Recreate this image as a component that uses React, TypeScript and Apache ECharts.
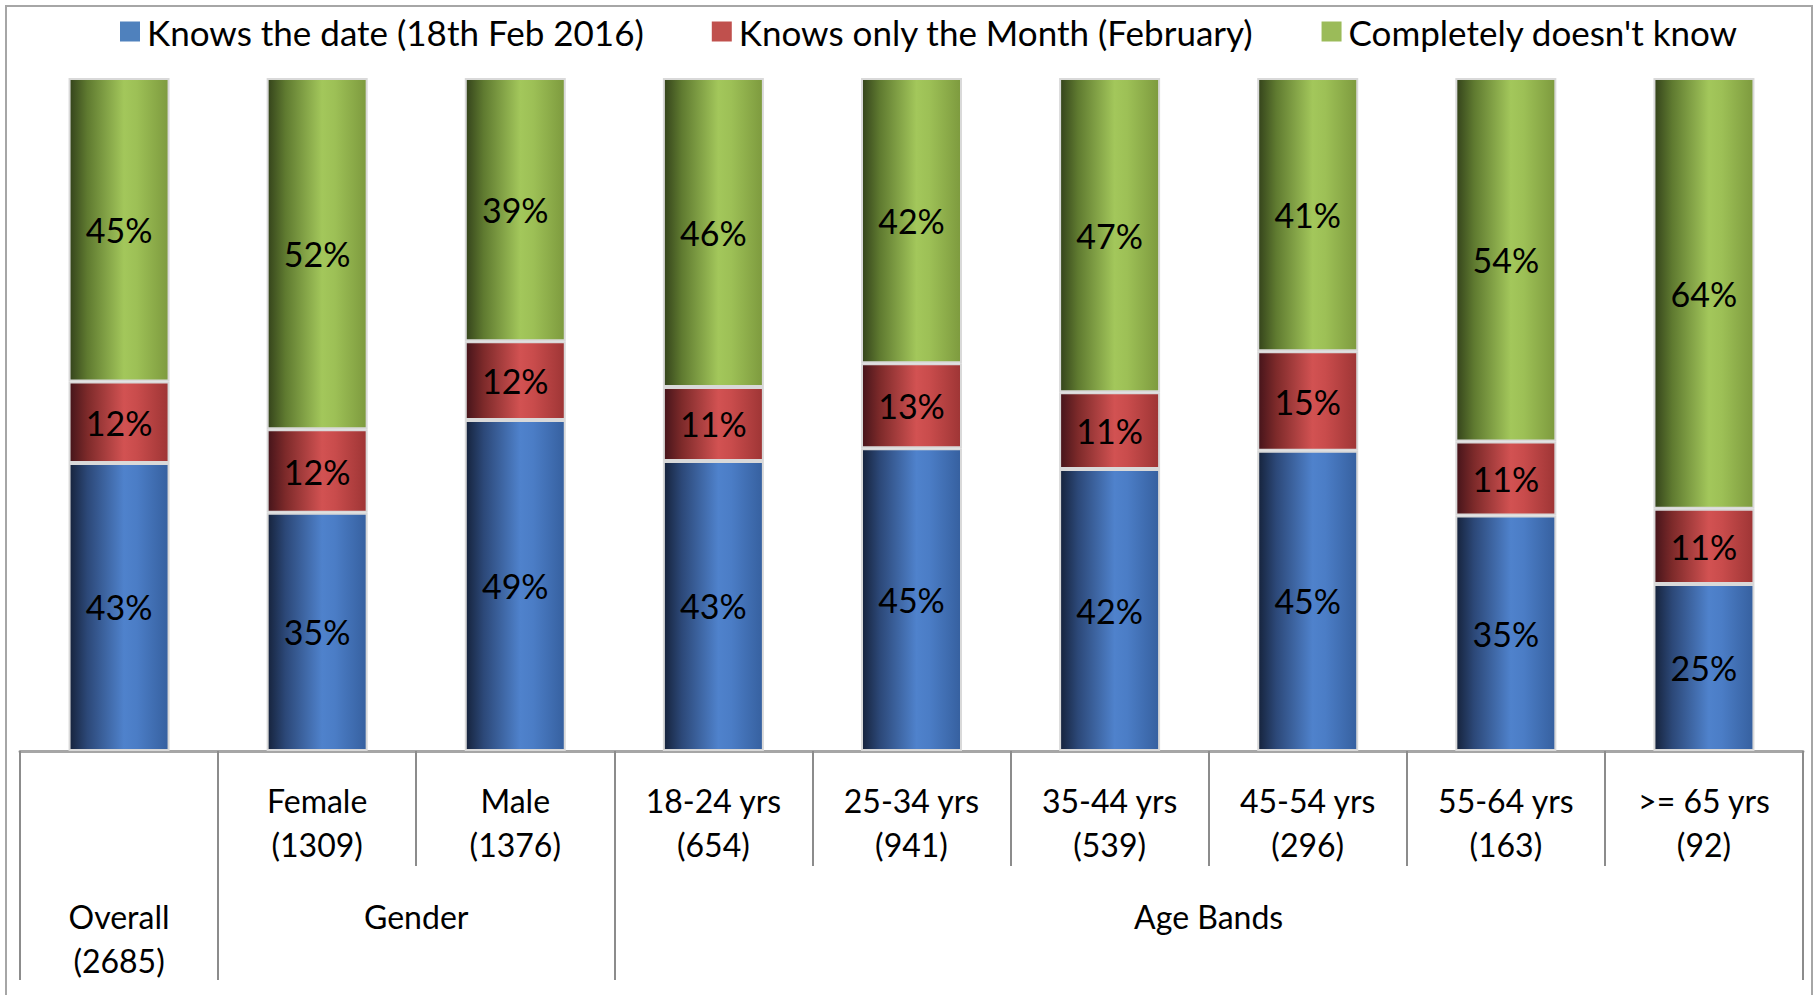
import React, { useEffect, useRef } from "react";
import * as echarts from "echarts";

const categories = ["Overall", "Female", "Male", "18-24 yrs", "25-34 yrs", "35-44 yrs", "45-54 yrs", "55-64 yrs", ">= 65 yrs"];
const sampleSizes = [2685, 1309, 1376, 654, 941, 539, 296, 163, 92];
const knowsDate = [42.8, 35.4, 49.2, 43.1, 45.0, 41.9, 44.6, 35.0, 24.8];
const knowsMonth = [12.1, 12.4, 11.7, 11.0, 12.6, 11.4, 14.8, 11.0, 11.2];
const doesntKnow = [45.1, 52.2, 39.1, 45.9, 42.4, 46.7, 40.6, 54.0, 64.0];
const seriesNames = ["Knows the date (18th Feb 2016)", "Knows only the Month (February)", "Completely doesn't know"];
const groupLabels = ["Overall\n(2685)", "Gender", "Age Bands"];
const groupStarts = [0, 1, 3];
const groupEnds = [1, 3, 9];

const FONT = "Lato, 'Open Sans', sans-serif";

function grad(stops: [number, string][]) {
  return new echarts.graphic.LinearGradient(0, 0, 1, 0, stops.map(([offset, color]) => ({ offset, color })));
}

export default function App() {
  const ref = useRef<HTMLDivElement>(null);
  useEffect(() => {
    if (!ref.current) return;
    const chart = echarts.init(ref.current, null, { renderer: "svg" });
    const groupCenters = groupStarts.map((s, i) => (s + groupEnds[i]) / 2);
    const groupBounds = Array.from(new Set([...groupStarts, ...groupEnds]));
    const fills = [
      grad([[0, "#16233c"], [0.18, "#2c4878"], [0.55, "#4f82cc"], [0.68, "#4b7dc6"], [1, "#36609f"]]),
      grad([[0, "#45141a"], [0.18, "#7d2a2a"], [0.55, "#d25252"], [0.68, "#c94c4c"], [1, "#9e3535"]]),
      grad([[0, "#34431b"], [0.18, "#5f7a30"], [0.55, "#a3c75b"], [0.68, "#9dc056"], [1, "#7d9a3e"]]),
    ];
    const flat = ["#4f81bd", "#c0504d", "#9bbb59"];
    const datasets = [knowsDate, knowsMonth, doesntKnow];
    chart.setOption({
      animation: false,
      textStyle: { fontFamily: FONT },
      graphic: [
        {
          type: "rect",
          shape: { x: 6, y: 6, width: 1806, height: 1010 },
          style: { fill: "none", stroke: "#a6a6a6", lineWidth: 2 },
          silent: true,
        },
      ],
      legend: {
        left: 115,
        top: 9,
        itemGap: 68,
        itemWidth: 20,
        itemHeight: 20,
        icon: "rect",
        textStyle: { fontSize: 35, color: "#000", fontFamily: FONT, padding: [0, 0, 0, 2] },
        data: seriesNames.map((n, i) => ({ name: n, itemStyle: { color: flat[i], borderWidth: 0 } })),
      },
      grid: { left: 20, right: 16, top: 78, bottom: 244, containLabel: false },
      xAxis: [
        {
          type: "category",
          data: categories,
          boundaryGap: true,
          axisLine: { lineStyle: { color: "#a6a6a6", width: 3 } },
          axisTick: { show: true, length: 115, lineStyle: { color: "#8c8c8c", width: 2 } },
          axisLabel: {
            interval: 0,
            margin: 27,
            fontSize: 32,
            lineHeight: 44,
            color: "#000",
            fontFamily: FONT,
            formatter: (v: string, idx: number) => (idx === 0 ? "" : `${v}\n(${sampleSizes[idx]})`),
          },
        },
        {
          type: "value",
          min: 0,
          max: categories.length,
          position: "bottom",
          axisLine: { show: false },
          splitLine: { show: false },
          axisTick: { show: true, length: 229, customValues: groupBounds, lineStyle: { color: "#8c8c8c", width: 2 } },
          axisLabel: {
            customValues: groupCenters,
            margin: 143,
            fontSize: 32,
            lineHeight: 44,
            color: "#000",
            fontFamily: FONT,
            formatter: (v: number) => {
              const i = groupCenters.indexOf(v);
              return i >= 0 ? groupLabels[i] : "";
            },
          },
        },
      ],
      yAxis: { type: "value", min: 0, max: 100, show: false },
      series: datasets.map((d, i) => ({
        name: seriesNames[i],
        type: "bar",
        stack: "total",
        barWidth: 101,
        xAxisIndex: 0,
        data: d,
        itemStyle: { color: fills[i], borderColor: "#d9d9d9", borderWidth: 2 },
        label: {
          show: true,
          position: "inside",
          color: "#000",
          fontSize: 34,
          fontFamily: FONT,
          formatter: (p: any) => `${Math.round(p.value)}%`,
        },
      })),
    });
    return () => chart.dispose();
  }, []);
  return <div ref={ref} style={{ position: "fixed", left: 0, top: 0, width: 1819, height: 995, background: "#fff" }} />;
}
